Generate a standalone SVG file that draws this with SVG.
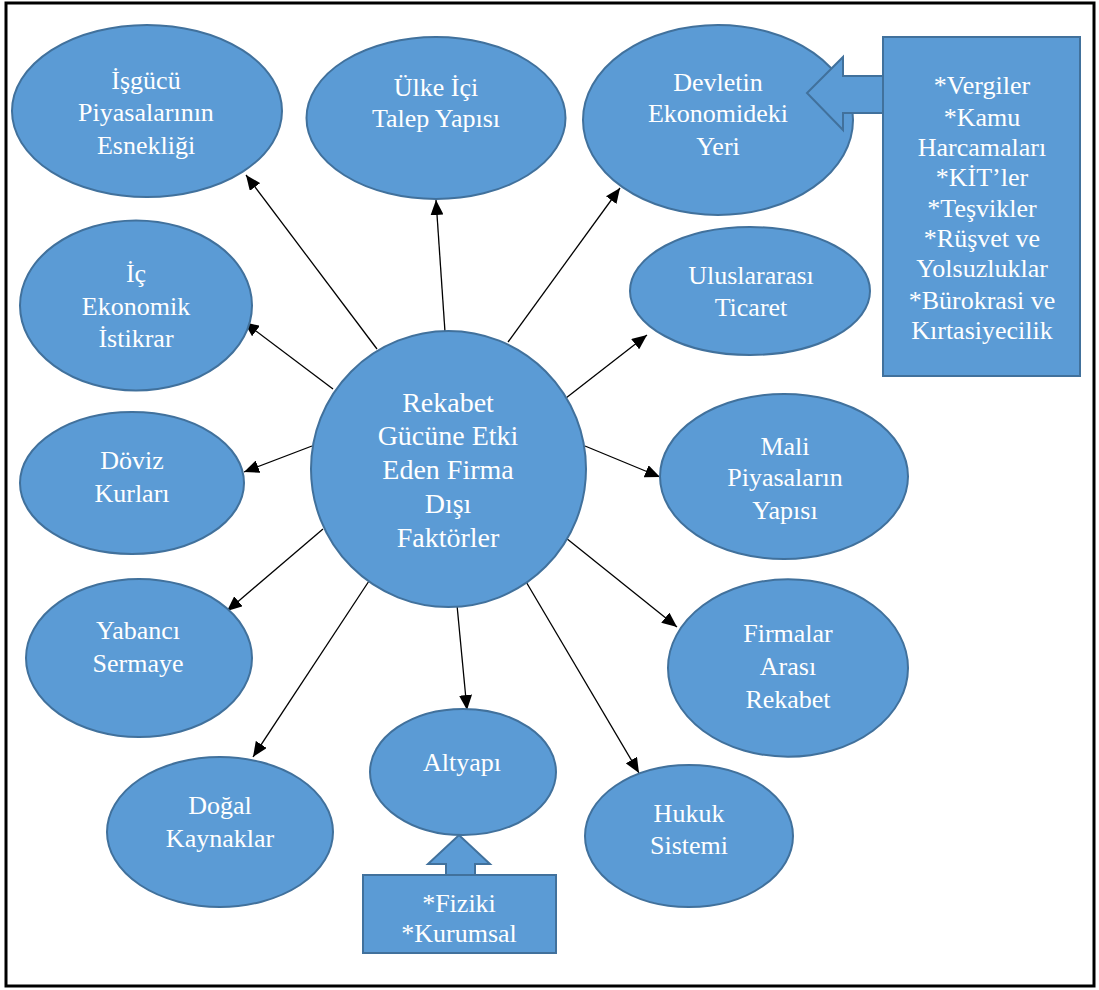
<svg xmlns="http://www.w3.org/2000/svg" width="1099" height="990" viewBox="0 0 1099 990">
<style>
.n{fill:#5B9BD5;stroke:#41719C;stroke-width:2}
.t{font-family:"Liberation Serif","Times New Roman",serif;font-size:26px;fill:#fff;text-anchor:middle}
.c{font-size:28px}
.e{stroke:#000;stroke-width:1.3;fill:none;marker-end:url(#ah)}
</style>
<defs>
<marker id="ah" markerUnits="userSpaceOnUse" markerWidth="15" markerHeight="13" viewBox="0 0 15 13" refX="15" refY="6.5" orient="auto">
<path d="M0,0 L15,6.5 L0,13 z" fill="#000"/>
</marker>
</defs>
<rect x="0" y="0" width="1099" height="990" fill="#fff"/>
<rect x="6" y="3" width="1088" height="983" fill="none" stroke="#000" stroke-width="3"/>
<g id="connectors">
<line class="e" x1="377" y1="349" x2="246" y2="175"/>
<line class="e" x1="445" y1="332" x2="436" y2="200"/>
<line class="e" x1="508" y1="342" x2="620" y2="188"/>
<line class="e" x1="566" y1="398" x2="647" y2="335"/>
<line class="e" x1="333" y1="389" x2="244" y2="322"/>
<line class="e" x1="312" y1="446" x2="244" y2="472"/>
<line class="e" x1="585" y1="446" x2="660" y2="477"/>
<line class="e" x1="323" y1="529" x2="227" y2="611"/>
<line class="e" x1="566" y1="538" x2="677" y2="627"/>
<line class="e" x1="369" y1="581" x2="253" y2="757"/>
<line class="e" x1="457" y1="605" x2="467" y2="710"/>
<line class="e" x1="525" y1="580" x2="639" y2="773"/>
</g>
<g id="center">
<ellipse class="n" cx="448.5" cy="469" rx="137.5" ry="138"/>
<text class="t c" x="448"><tspan x="448" y="412">Rekabet</tspan><tspan x="448" y="445">Gücüne Etki</tspan><tspan x="448" y="479">Eden Firma</tspan><tspan x="448" y="513">Dışı</tspan><tspan x="448" y="547">Faktörler</tspan></text>
</g>
<g id="isgucu">
<ellipse class="n" cx="147" cy="111" rx="135" ry="86"/>
<text class="t"><tspan x="146" y="89">İşgücü</tspan><tspan x="146" y="121">Piyasalarının</tspan><tspan x="146" y="154">Esnekliği</tspan></text>
</g>
<g id="ulke">
<ellipse class="n" cx="436" cy="118" rx="129.5" ry="81"/>
<text class="t"><tspan x="436" y="96">Ülke İçi</tspan><tspan x="436" y="127">Talep Yapısı</tspan></text>
</g>
<g id="devlet">
<ellipse class="n" cx="718" cy="120" rx="135" ry="95"/>
<text class="t"><tspan x="718" y="91">Devletin</tspan><tspan x="718" y="122">Ekonomideki</tspan><tspan x="718" y="155">Yeri</tspan></text>
</g>
<g id="devlet-callout">
<polygon class="n" points="884,76 843,76 843,57 807,93 843,130 843,113 884,113"/>
<rect class="n" x="883" y="37" width="197" height="339"/>
<text class="t"><tspan x="982" y="94">*Vergiler</tspan><tspan x="982" y="126">*Kamu</tspan><tspan x="982" y="156">Harcamaları</tspan><tspan x="982" y="186">*KİT’ler</tspan><tspan x="982" y="217">*Teşvikler</tspan><tspan x="982" y="247">*Rüşvet ve</tspan><tspan x="982" y="277">Yolsuzluklar</tspan><tspan x="982" y="309">*Bürokrasi ve</tspan><tspan x="982" y="339">Kırtasiyecilik</tspan></text>
</g>
<g id="uluslararasi">
<ellipse class="n" cx="750" cy="291" rx="120" ry="64"/>
<text class="t"><tspan x="751" y="284">Uluslararası</tspan><tspan x="751" y="316">Ticaret</tspan></text>
</g>
<g id="ic">
<ellipse class="n" cx="136" cy="305.5" rx="116" ry="85"/>
<text class="t"><tspan x="136" y="282">İç</tspan><tspan x="136" y="315">Ekonomik</tspan><tspan x="136" y="347">İstikrar</tspan></text>
</g>
<g id="doviz">
<ellipse class="n" cx="132" cy="483" rx="112" ry="71"/>
<text class="t"><tspan x="132" y="469">Döviz</tspan><tspan x="132" y="502">Kurları</tspan></text>
</g>
<g id="mali">
<ellipse class="n" cx="784" cy="476.5" rx="124" ry="82.5"/>
<text class="t"><tspan x="785" y="455">Mali</tspan><tspan x="785" y="486">Piyasaların</tspan><tspan x="785" y="519">Yapısı</tspan></text>
</g>
<g id="yabanci">
<ellipse class="n" cx="139" cy="658" rx="113" ry="79"/>
<text class="t"><tspan x="138" y="639">Yabancı</tspan><tspan x="138" y="672">Sermaye</tspan></text>
</g>
<g id="firmalar">
<ellipse class="n" cx="788" cy="668" rx="120" ry="88.7"/>
<text class="t"><tspan x="788" y="642">Firmalar</tspan><tspan x="788" y="675">Arası</tspan><tspan x="788" y="708">Rekabet</tspan></text>
</g>
<g id="dogal">
<ellipse class="n" cx="220" cy="832" rx="113" ry="75"/>
<text class="t"><tspan x="220" y="814">Doğal</tspan><tspan x="220" y="847">Kaynaklar</tspan></text>
</g>
<g id="altyapi">
<ellipse class="n" cx="463" cy="772" rx="93" ry="63"/>
<text class="t"><tspan x="462" y="771">Altyapı</tspan></text>
</g>
<g id="altyapi-callout">
<polygon class="n" points="446,876 446,864 428,864 459,835 490,864 475,864 475,876"/>
<rect class="n" x="363" y="875" width="193" height="78"/>
<text class="t"><tspan x="459" y="912">*Fiziki</tspan><tspan x="459" y="942">*Kurumsal</tspan></text>
</g>
<g id="hukuk">
<ellipse class="n" cx="689" cy="836" rx="104" ry="71"/>
<text class="t"><tspan x="689" y="822">Hukuk</tspan><tspan x="689" y="854">Sistemi</tspan></text>
</g>
</svg>
